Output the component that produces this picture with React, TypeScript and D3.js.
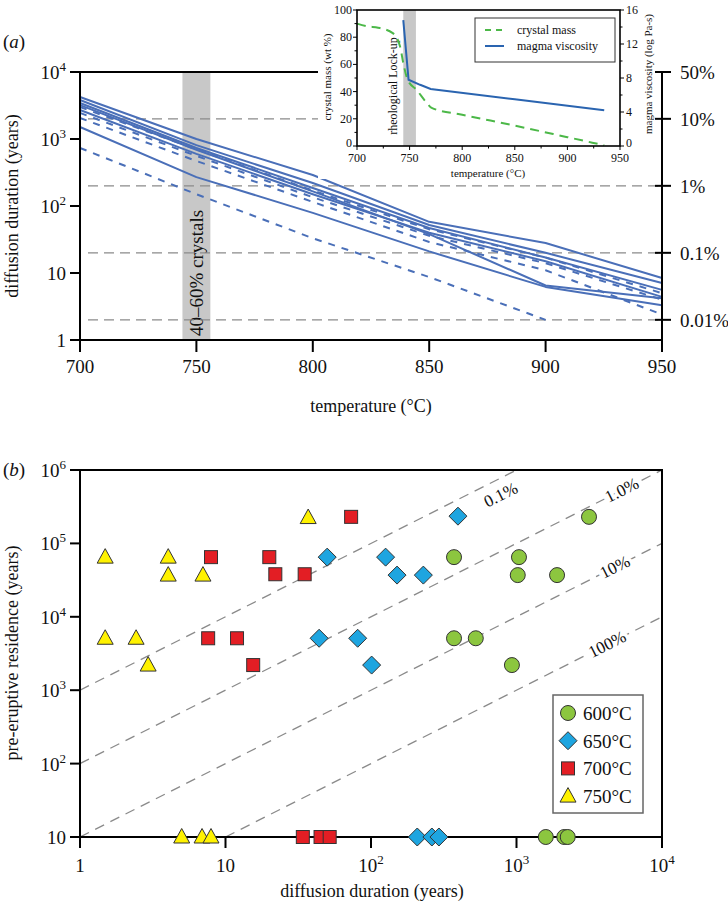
import { useEffect, useRef } from "react";
import * as d3 from "d3";

// ---- panel (a): diffusion duration vs temperature ----
const temps = [700, 750, 800, 850, 900, 950];
const solidRuns = [
  [4240, 1000, 290, 58, 28, 8.4],
  [3820, 810, 220, 52, 20, 7.1],
  [3450, 735, 186, 47, 17, 5.6],
  [2710, 600, 150, 40, 15, 4.4],
  [3200, 690, 165, 38, 6.5, 4.2],
  [1510, 270, 79, 21, 6.2, 3.3],
];
const dashedRuns = [
  [3000, 700, 170, 45, 17, 5.0],
  [2450, 560, 135, 36, 14, 4.0],
  [2060, 470, 115, 29, 11, 2.4],
  [735, 150, 33, 8.7, 2.0],
];
const yearTicksA = [1, 10, 100, 1000, 10000];
const tempTicks = [700, 750, 800, 850, 900, 950];
const pctTicks = [50, 10, 1, 0.1, 0.01];
const pctLabels = ["50%", "10%", "1%", "0.1%", "0.01%"];
const pctGuides = [10, 1, 0.1, 0.01];
const crystalBand = [744, 756];

// ---- inset ----
const massT = [700, 710, 720, 734, 741, 744, 748, 757, 766, 771, 800, 850, 900, 935];
const massV = [90, 88, 87, 83, 73, 61, 49, 41, 32, 28, 23, 15, 6.5, 0.5];
const viscT = [744, 749, 760, 770, 850, 935];
const viscV = [14.8, 7.8, 7.2, 6.7, 5.5, 4.2];
const massTicks = [0, 20, 40, 60, 80, 100];
const viscTicks = [0, 4, 8, 12, 16];

// ---- panel (b): residence vs diffusion duration ----
const durTicks = [1, 10, 100, 1000, 10000];
const resTicks = [10, 100, 1000, 10000, 100000, 1000000];
const ratioLines = [1000, 100, 10, 1];
const ratioLabels = ["0.1%", "1.0%", "10%", "100%"];
const ratioLabelDur = [780, 5300, 4750, 4200];
const ratioLabelShift = [17, 0, 0, 0];

const s600 = [[3150, 230000], [372, 65000], [1040, 65000], [1020, 37000], [1900, 37000], [372, 5100], [525, 5100], [930, 2200], [1590, 10], [2130, 10], [2250, 10]];
const s650 = [[396, 235000], [50, 65000], [126, 65000], [151, 37000], [229, 37000], [44, 5100], [81, 5100], [101, 2200], [208, 10], [262, 10], [293, 10]];
const s700 = [[73, 230000], [7.95, 65000], [20, 65000], [22, 38000], [35, 38000], [7.6, 5100], [12, 5100], [15.5, 2200], [34, 10], [45, 10], [52, 10]];
const s750 = [[37, 225000], [1.49, 65000], [4.04, 65000], [4.04, 37000], [7.0, 37000], [1.49, 5100], [2.43, 5100], [2.94, 2200], [5.0, 10], [6.9, 10], [7.95, 10]];
const seriesNames = ["600°C", "650°C", "700°C", "750°C"];

const FONT = "'Liberation Serif', 'Times New Roman', serif";
const LINE_BLUE = "#4a6fb8";

function powLabel(g, x, y, v, anchor, big = 19, small = 13) {
  const t = g.append("text").attr("x", x).attr("y", y).attr("text-anchor", anchor).attr("font-size", big);
  const e = Math.round(Math.log10(v));
  if (e <= 1) t.text(String(v));
  else {
    t.append("tspan").text("10");
    t.append("tspan").attr("dy", -8).attr("font-size", small).text(e);
  }
}

function marker(g, kind, x, y) {
  const fillMap = { c: "#8cc63f", d: "#1ea5e0", s: "#e31e24", t: "#fff200" };
  let el;
  if (kind === "c") el = g.append("circle").attr("cx", x).attr("cy", y).attr("r", 7.5);
  else if (kind === "s") el = g.append("rect").attr("x", x - 6.5).attr("y", y - 6.5).attr("width", 13).attr("height", 13);
  else if (kind === "d") el = g.append("path").attr("d", `M${x},${y - 9}L${x + 9},${y}L${x},${y + 9}L${x - 9},${y}Z`);
  else el = g.append("path").attr("d", `M${x},${y - 8.5}L${x + 8},${y + 6}L${x - 8},${y + 6}Z`);
  el.attr("fill", fillMap[kind]).attr("stroke", "#333").attr("stroke-width", 1);
}

export default function App() {
  const ref = useRef(null);

  useEffect(() => {
    const svg = d3.select(ref.current);
    svg.selectAll("*").remove();
    svg.attr("font-family", FONT).attr("fill", "#111");

    // ================= panel (a) =================
    const xA = d3.scaleLinear().domain([700, 950]).range([80, 662]);
    const yA = d3.scaleLog().domain([1, 1e4]).range([340, 72]);
    const a = svg.append("g");

    a.append("rect").attr("x", xA(crystalBand[0])).attr("y", 72)
      .attr("width", xA(crystalBand[1]) - xA(crystalBand[0])).attr("height", 268).attr("fill", "#c8c8c8");
    a.append("text").attr("transform", `translate(${xA(750)},336) rotate(-90)`)
      .attr("dominant-baseline", "central").attr("font-size", 19).text("40–60% crystals");

    pctGuides.forEach(p => {
      a.append("line").attr("x1", 88).attr("x2", p === 10 ? 318 : 662)
        .attr("y1", yA(p * 200)).attr("y2", yA(p * 200))
        .attr("stroke", "#8a8a8a").attr("stroke-width", 1.3).attr("stroke-dasharray", "10,6");
    });

    const lineA = d3.line().x(d => xA(d[0])).y(d => yA(d[1]));
    solidRuns.forEach(r => {
      a.append("path").attr("d", lineA(r.map((v, i) => [temps[i], v])))
        .attr("fill", "none").attr("stroke", LINE_BLUE).attr("stroke-width", 2).attr("stroke-linejoin", "round");
    });
    dashedRuns.forEach(r => {
      a.append("path").attr("d", lineA(r.map((v, i) => [temps[i], v])))
        .attr("fill", "none").attr("stroke", LINE_BLUE).attr("stroke-width", 2).attr("stroke-dasharray", "7,7");
    });

    // axes
    a.append("line").attr("x1", 80).attr("x2", 80).attr("y1", 72).attr("y2", 352).attr("stroke", "#000").attr("stroke-width", 2);
    a.append("line").attr("x1", 70).attr("x2", 662).attr("y1", 340).attr("y2", 340).attr("stroke", "#000").attr("stroke-width", 2);
    a.append("line").attr("x1", 70).attr("x2", 318).attr("y1", 72).attr("y2", 72).attr("stroke", "#000").attr("stroke-width", 2);
    a.append("line").attr("x1", 662).attr("x2", 662).attr("y1", yA(pctTicks[0] * 200)).attr("y2", 352).attr("stroke", "#000").attr("stroke-width", 2);

    yearTicksA.forEach(v => {
      a.append("line").attr("x1", 70).attr("x2", 80).attr("y1", yA(v)).attr("y2", yA(v)).attr("stroke", "#000").attr("stroke-width", 2);
      powLabel(a, 66, yA(v) + 7, v, "end");
    });
    tempTicks.forEach(t => {
      a.append("line").attr("x1", xA(t)).attr("x2", xA(t)).attr("y1", 340).attr("y2", 352).attr("stroke", "#000").attr("stroke-width", 2);
      a.append("text").attr("x", xA(t)).attr("y", 373).attr("text-anchor", "middle").attr("font-size", 19).text(t);
    });
    pctTicks.forEach((p, i) => {
      const y = yA(p * 200);
      a.append("line").attr("x1", 655).attr("x2", 671).attr("y1", y).attr("y2", y).attr("stroke", "#000").attr("stroke-width", 2);
      a.append("text").attr("x", 680).attr("y", y + 7).attr("font-size", 19).text(pctLabels[i]);
    });

    a.append("text").attr("x", 371).attr("y", 412).attr("text-anchor", "middle").attr("font-size", 18).text("temperature (°C)");
    a.append("text").attr("transform", "translate(12,206) rotate(-90)").attr("text-anchor", "middle")
      .attr("dominant-baseline", "central").attr("font-size", 18).text("diffusion duration (years)");
    const ta = a.append("text").attr("x", 3).attr("y", 48).attr("font-size", 19);
    ta.append("tspan").text("(");
    ta.append("tspan").attr("font-style", "italic").text("a");
    ta.append("tspan").text(")");

    // ================= inset =================
    const xI = d3.scaleLinear().domain([700, 950]).range([357, 620]);
    const yM = d3.scaleLinear().domain([0, 100]).range([146, 10]);
    const yV = d3.scaleLinear().domain([0, 16]).range([146, 10]);
    const ins = svg.append("g").attr("font-size", 12);
    ins.append("rect").attr("x", 318).attr("y", 0).attr("width", 336).attr("height", 179).attr("fill", "#fff");
    ins.append("rect").attr("x", xI(crystalBand[0])).attr("y", 10)
      .attr("width", xI(crystalBand[1]) - xI(crystalBand[0])).attr("height", 136).attr("fill", "#c8c8c8");
    ins.append("text").attr("transform", `translate(${xI(crystalBand[0]) - 10},86) rotate(-90)`)
      .attr("text-anchor", "middle").attr("dominant-baseline", "central").attr("font-size", 12).text("rheological Lock-up");

    ins.append("path").attr("d", d3.line().x((d, i) => xI(massT[i])).y(d => yM(d)).curve(d3.curveMonotoneX)(massV))
      .attr("fill", "none").attr("stroke", "#4cb848").attr("stroke-width", 2).attr("stroke-dasharray", "9,6");
    ins.append("path").attr("d", d3.line().x((d, i) => xI(viscT[i])).y(d => yV(d))(viscV))
      .attr("fill", "none").attr("stroke", "#2a64b0").attr("stroke-width", 2);

    ins.append("rect").attr("x", 357).attr("y", 10).attr("width", 263).attr("height", 136)
      .attr("fill", "none").attr("stroke", "#000").attr("stroke-width", 1.6);
    d3.range(0, 101, 10).forEach(v => {
      const big = v % 20 === 0;
      ins.append("line").attr("x1", 357 - (big ? 4 : 2.5)).attr("x2", 357).attr("y1", yM(v)).attr("y2", yM(v)).attr("stroke", "#000");
    });
    massTicks.forEach(v => ins.append("text").attr("x", 352).attr("y", yM(v) + (v === 0 ? 1 : 4)).attr("text-anchor", "end").text(v));
    d3.range(0, 17, 2).forEach(v => {
      const big = v % 4 === 0;
      ins.append("line").attr("x1", 620).attr("x2", 620 + (big ? 4 : 2.5)).attr("y1", yV(v)).attr("y2", yV(v)).attr("stroke", "#000");
    });
    viscTicks.forEach(v => ins.append("text").attr("x", 626).attr("y", yV(v) + (v === 0 ? 1 : 4)).text(v));
    d3.range(700, 951, 25).forEach(t => {
      const big = t % 50 === 0;
      ins.append("line").attr("x1", xI(t)).attr("x2", xI(t)).attr("y1", 146).attr("y2", 146 + (big ? 4 : 2.5)).attr("stroke", "#000");
    });
    tempTicks.forEach(t => ins.append("text").attr("x", xI(t)).attr("y", 162).attr("text-anchor", "middle").text(t));
    ins.append("text").attr("x", 488).attr("y", 177).attr("text-anchor", "middle").attr("font-size", 11).text("temperature (°C)");
    ins.append("text").attr("transform", "translate(327,77) rotate(-90)").attr("text-anchor", "middle")
      .attr("dominant-baseline", "central").attr("font-size", 11).text("crystal mass (wt %)");
    ins.append("text").attr("transform", "translate(648,74) rotate(-90)").attr("text-anchor", "middle")
      .attr("dominant-baseline", "central").attr("font-size", 11).text("magma viscosity (log Pa-s)");

    ins.append("rect").attr("x", 475).attr("y", 18).attr("width", 140).attr("height", 44)
      .attr("fill", "#fff").attr("stroke", "#333").attr("stroke-width", 1);
    ins.append("line").attr("x1", 485).attr("x2", 504).attr("y1", 30).attr("y2", 30)
      .attr("stroke", "#4cb848").attr("stroke-width", 2).attr("stroke-dasharray", "6,5");
    ins.append("text").attr("x", 517).attr("y", 34).text("crystal mass");
    ins.append("line").attr("x1", 485).attr("x2", 504).attr("y1", 46).attr("y2", 46)
      .attr("stroke", "#2a64b0").attr("stroke-width", 2);
    ins.append("text").attr("x", 517).attr("y", 50).text("magma viscosity");

    // ================= panel (b) =================
    const xB = d3.scaleLog().domain([1, 1e4]).range([80, 662]);
    const yB = d3.scaleLog().domain([10, 1e6]).range([837, 470]);
    const b = svg.append("g");

    const clip = svg.append("defs").append("clipPath").attr("id", "clipB");
    clip.append("rect").attr("x", 80).attr("y", 470).attr("width", 582).attr("height", 367);
    const guides = b.append("g").attr("clip-path", "url(#clipB)");
    ratioLines.forEach(r => {
      const d0 = Math.max(1, 10 / r);
      guides.append("line")
        .attr("x1", xB(d0)).attr("y1", yB(d0 * r))
        .attr("x2", xB(1e4)).attr("y2", yB(1e4 * r))
        .attr("stroke", "#8a8a8a").attr("stroke-width", 1.3).attr("stroke-dasharray", "10,7");
    });
    const ang = -Math.atan2(yB(10) - yB(100), xB(10) - xB(1)) * 180 / Math.PI;
    ratioLines.forEach((r, i) => {
      const d = ratioLabelDur[i];
      b.append("text")
        .attr("transform", `translate(${xB(d)},${yB(d * r) + ratioLabelShift[i]}) rotate(${ang})`)
        .attr("text-anchor", "middle").attr("dominant-baseline", "central").attr("font-size", 17)
        .attr("paint-order", "stroke").attr("stroke", "#fff").attr("stroke-width", 7)
        .text(ratioLabels[i]);
    });

    b.append("line").attr("x1", 80).attr("x2", 80).attr("y1", 470).attr("y2", 848).attr("stroke", "#000").attr("stroke-width", 2);
    b.append("line").attr("x1", 79).attr("x2", 663).attr("y1", 470).attr("y2", 470).attr("stroke", "#000").attr("stroke-width", 2);
    b.append("line").attr("x1", 662).attr("x2", 662).attr("y1", 470).attr("y2", 848).attr("stroke", "#000").attr("stroke-width", 2);
    b.append("line").attr("x1", 70).attr("x2", 662).attr("y1", 837).attr("y2", 837).attr("stroke", "#000").attr("stroke-width", 2);
    resTicks.forEach(v => {
      b.append("line").attr("x1", 70).attr("x2", 80).attr("y1", yB(v)).attr("y2", yB(v)).attr("stroke", "#000").attr("stroke-width", 2);
      powLabel(b, 66, yB(v) + 7, v, "end");
    });
    durTicks.forEach(v => {
      b.append("line").attr("x1", xB(v)).attr("x2", xB(v)).attr("y1", 837).attr("y2", 848).attr("stroke", "#000").attr("stroke-width", 2);
      powLabel(b, xB(v), 872, v, "middle");
    });

    const groups = [[s600, "c"], [s650, "d"], [s700, "s"], [s750, "t"]];
    const marks = b.append("g");
    groups.forEach(([pts, k]) => pts.forEach(p => marker(marks, k, xB(p[0]), yB(p[1]))));

    b.append("rect").attr("x", 553).attr("y", 695).attr("width", 90).attr("height", 118)
      .attr("fill", "#fff").attr("stroke", "#666").attr("stroke-width", 1.5);
    groups.forEach(([, k], i) => {
      const y = 713 + i * 27.7;
      marker(b, k, 568, y);
      b.append("text").attr("x", 583).attr("y", y + 7).attr("font-size", 19).text(seriesNames[i]);
    });

    b.append("text").attr("x", 372).attr("y", 897).attr("text-anchor", "middle").attr("font-size", 18).text("diffusion duration (years)");
    b.append("text").attr("transform", "translate(12,653) rotate(-90)").attr("text-anchor", "middle")
      .attr("dominant-baseline", "central").attr("font-size", 18).text("pre-eruptive residence (years)");
    const tb = b.append("text").attr("x", 3).attr("y", 476).attr("font-size", 19);
    tb.append("tspan").text("(");
    tb.append("tspan").attr("font-style", "italic").text("b");
    tb.append("tspan").text(")");
  }, []);

  return (
    <svg ref={ref} width={728} height={905}
      style={{ position: "absolute", left: 0, top: 0, background: "#fff" }} />
  );
}
